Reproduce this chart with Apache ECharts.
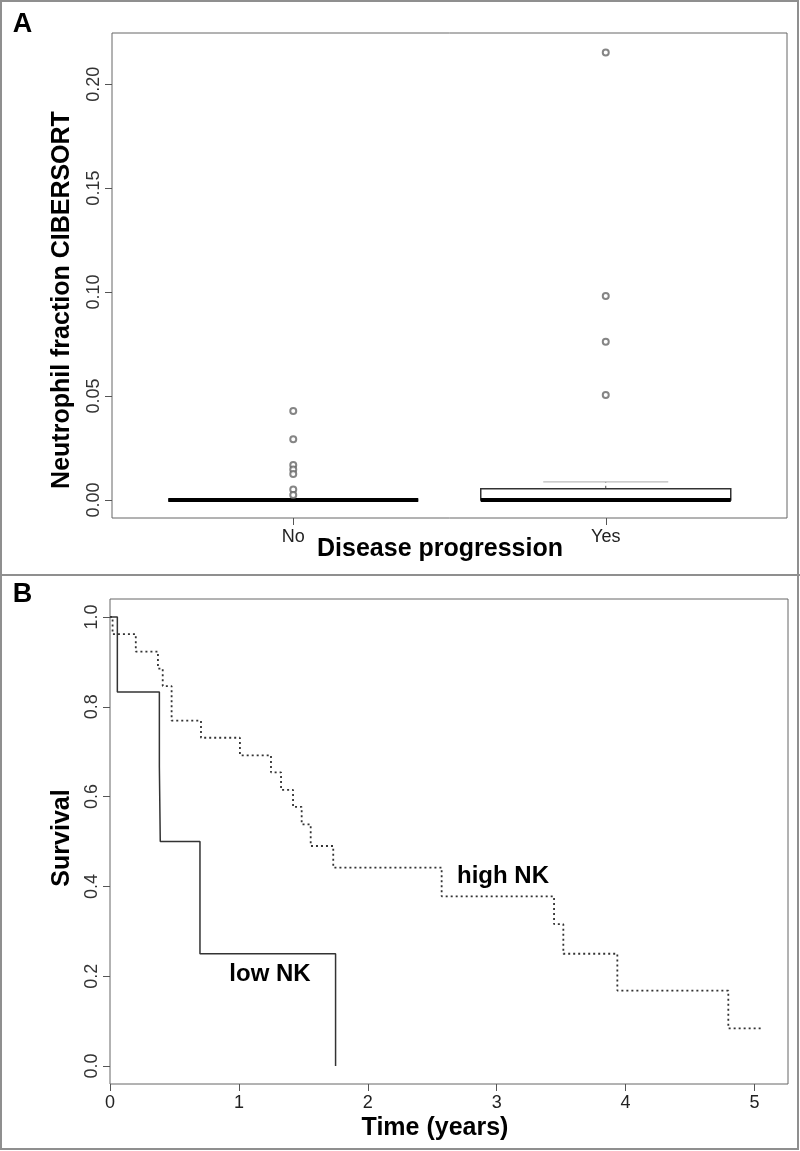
<!DOCTYPE html>
<html>
<head>
<meta charset="utf-8">
<title>Neutrophil fraction / NK survival</title>
<script src="https://cdn.jsdelivr.net/npm/echarts@6/dist/echarts.min.js"></script>
<style>
  html, body {
    margin: 0;
    padding: 0;
    background: #fff;
  }
  #chart {
    width: 800px;
    height: 1151px;
  }
</style>
</head>
<body>
<div id="chart"></div>
<script>
// panel A: boxplot data
const groups = ['No', 'Yes']
// min, q1, median, q3, max (whisker ends)
const boxNo = [0, 0, 0, 0, 0]
const boxYes = [0, 0, 0, 0.0054, 0.0087]
const outNo = [0.0428, 0.0292, 0.0168, 0.0147, 0.0125, 0.0051, 0.0024]
const outYes = [0.2152, 0.0981, 0.0761, 0.0505]
const yTicksA = [0, 0.05, 0.1, 0.15, 0.2]

// panel B: Kaplan-Meier curves
const lowTime = [0, 0.057, 0.383, 0.39, 0.698, 1.75]
const lowSurv = [1, 0.833, 0.667, 0.5, 0.25, 0]
const highTime = [0, 0.02, 0.2, 0.372, 0.409, 0.478, 0.706, 1.008, 1.249, 1.327, 1.42, 1.487, 1.557, 1.732, 2.573, 3.445, 3.517, 3.936, 4.797, 5.07]
const highSurv = [1, 0.962, 0.923, 0.885, 0.846, 0.769, 0.731, 0.692, 0.654, 0.615, 0.577, 0.538, 0.49, 0.442, 0.378, 0.316, 0.25, 0.168, 0.084, 0.084]
const xTicksB = [0, 1, 2, 3, 4, 5]
const yTicksB = [0, 0.2, 0.4, 0.6, 0.8, 1.0]

const font = 'Liberation Sans, Arial, sans-serif'
const tickStyle = { show: true, length: 7, inside: false, lineStyle: { color: '#555', width: 1 } }
const noLine = { show: false, onZero: false }

const boxData = [[1].concat(boxNo), [2].concat(boxYes)]
const outData = []
outNo.forEach(v => outData.push([1, v]))
outYes.forEach(v => outData.push([2, v]))

function renderBox(params, api) {
  const x = api.value(0)
  const lo = api.value(1)
  const q1 = api.value(2)
  const med = api.value(3)
  const q3 = api.value(4)
  const hi = api.value(5)
  const half = 0.4
  const capHalf = 0.2
  const tl = api.coord([x - half, q3])
  const br = api.coord([x + half, q1])
  const c = api.coord([x, q3])
  const cLo = api.coord([x, q1])
  const top = api.coord([x, hi])
  const bot = api.coord([x, lo])
  const capL = api.coord([x - capHalf, hi])
  const capR = api.coord([x + capHalf, hi])
  const capL2 = api.coord([x - capHalf, lo])
  const capR2 = api.coord([x + capHalf, lo])
  const mL = api.coord([x - half, med])
  const mR = api.coord([x + half, med])
  return {
    type: 'group',
    children: [
      { type: 'line', shape: { x1: c[0], y1: c[1], x2: top[0], y2: top[1] }, style: { stroke: '#444', lineWidth: 1, lineDash: [3, 3] } },
      { type: 'line', shape: { x1: cLo[0], y1: cLo[1], x2: bot[0], y2: bot[1] }, style: { stroke: '#444', lineWidth: 1, lineDash: [3, 3] } },
      { type: 'line', shape: { x1: capL[0], y1: capL[1], x2: capR[0], y2: capR[1] }, style: { stroke: '#bbb', lineWidth: 1.2 } },
      { type: 'line', shape: { x1: capL2[0], y1: capL2[1], x2: capR2[0], y2: capR2[1] }, style: { stroke: '#bbb', lineWidth: 1.2 } },
      { type: 'rect', shape: { x: tl[0], y: tl[1], width: br[0] - tl[0], height: br[1] - tl[1] }, style: { fill: '#fff', stroke: '#333', lineWidth: 1.5 } },
      { type: 'line', shape: { x1: mL[0], y1: mL[1], x2: mR[0], y2: mR[1] }, style: { stroke: '#000', lineWidth: 4 } }
    ]
  }
}

let myChart = echarts.init(document.getElementById('chart'))
myChart.setOption({
  backgroundColor: '#fff',
  animation: false,
  grid: [
    { left: 112, top: 33, width: 675, height: 485, show: true, borderColor: '#666', borderWidth: 1, backgroundColor: 'transparent' },
    { left: 110, top: 599, width: 678, height: 485, show: true, borderColor: '#666', borderWidth: 1, backgroundColor: 'transparent' }
  ],
  xAxis: [
    {
      gridIndex: 0,
      type: 'value',
      min: 0.42,
      max: 2.58,
      axisLine: noLine,
      splitLine: { show: false },
      axisTick: Object.assign({ customValues: [1, 2] }, tickStyle),
      axisLabel: {
        customValues: [1, 2],
        formatter: v => groups[Math.round(v) - 1],
        fontFamily: font,
        fontSize: 18,
        color: '#222',
        margin: 10
      }
    },
    {
      gridIndex: 1,
      type: 'value',
      min: 0,
      max: 5.26,
      axisLine: noLine,
      splitLine: { show: false },
      axisTick: Object.assign({ customValues: xTicksB }, tickStyle),
      axisLabel: {
        customValues: xTicksB,
        fontFamily: font,
        fontSize: 18,
        color: '#222',
        margin: 10
      }
    }
  ],
  yAxis: [
    {
      gridIndex: 0,
      type: 'value',
      min: -0.00865,
      max: 0.2246,
      axisLine: noLine,
      splitLine: { show: false },
      axisTick: Object.assign({ customValues: yTicksA }, tickStyle),
      axisLabel: {
        customValues: yTicksA,
        formatter: v => v.toFixed(2),
        rotate: 90,
        fontFamily: font,
        fontSize: 18,
        color: '#333',
        margin: 9
      }
    },
    {
      gridIndex: 1,
      type: 'value',
      min: -0.04,
      max: 1.04,
      axisLine: noLine,
      splitLine: { show: false },
      axisTick: Object.assign({ customValues: yTicksB }, tickStyle),
      axisLabel: {
        customValues: yTicksB,
        formatter: v => v.toFixed(1),
        rotate: 90,
        fontFamily: font,
        fontSize: 18,
        color: '#333',
        margin: 9
      }
    }
  ],
  series: [
    {
      type: 'custom',
      xAxisIndex: 0,
      yAxisIndex: 0,
      renderItem: renderBox,
      encode: { x: 0, y: [1, 2, 3, 4, 5] },
      data: boxData,
      z: 2
    },
    {
      type: 'scatter',
      xAxisIndex: 0,
      yAxisIndex: 0,
      symbol: 'emptyCircle',
      symbolSize: 6,
      itemStyle: { color: '#666', borderWidth: 1 },
      data: outData,
      z: 3
    },
    {
      // low NK (solid)
      type: 'line',
      xAxisIndex: 1,
      yAxisIndex: 1,
      step: 'end',
      showSymbol: false,
      lineStyle: { color: '#333', width: 1.5 },
      data: lowTime.map((t, i) => [t, lowSurv[i]])
    },
    {
      // high NK (dotted)
      type: 'line',
      xAxisIndex: 1,
      yAxisIndex: 1,
      step: 'end',
      showSymbol: false,
      lineStyle: { color: '#333', width: 1.8, type: [2, 3] },
      data: highTime.map((t, i) => [t, highSurv[i]])
    }
  ],
  graphic: [
    // outer frame + panel separator
    { type: 'rect', shape: { x: 1, y: 1, width: 797, height: 1148 }, style: { fill: 'none', stroke: '#8f8f8f', lineWidth: 2 }, z: 100 },
    { type: 'line', shape: { x1: 0, y1: 575, x2: 800, y2: 575 }, style: { stroke: '#8f8f8f', lineWidth: 2 }, z: 100 },
    // panel letters
    { type: 'text', x: 22.5, y: 25, style: { text: 'A', font: 'bold 27px ' + font, fill: '#000', align: 'center', verticalAlign: 'middle' } },
    { type: 'text', x: 22.5, y: 595, style: { text: 'B', font: 'bold 27px ' + font, fill: '#000', align: 'center', verticalAlign: 'middle' } },
    // axis titles
    { type: 'text', x: 62.5, y: 300, rotation: Math.PI / 2, style: { text: 'Neutrophil fraction CIBERSORT', font: 'bold 25px ' + font, fill: '#000', align: 'center', verticalAlign: 'middle' } },
    { type: 'text', x: 440, y: 549, style: { text: 'Disease progression', font: 'bold 25px ' + font, fill: '#000', align: 'center', verticalAlign: 'middle' } },
    { type: 'text', x: 62.5, y: 838, rotation: Math.PI / 2, style: { text: 'Survival', font: 'bold 25px ' + font, fill: '#000', align: 'center', verticalAlign: 'middle' } },
    { type: 'text', x: 435, y: 1128, style: { text: 'Time (years)', font: 'bold 25px ' + font, fill: '#000', align: 'center', verticalAlign: 'middle' } },
    // curve labels
    { type: 'text', x: 270, y: 974, style: { text: 'low NK', font: 'bold 24px ' + font, fill: '#000', align: 'center', verticalAlign: 'middle' } },
    { type: 'text', x: 503, y: 876, style: { text: 'high NK', font: 'bold 24px ' + font, fill: '#000', align: 'center', verticalAlign: 'middle' } }
  ]
})
</script>
</body>
</html>
